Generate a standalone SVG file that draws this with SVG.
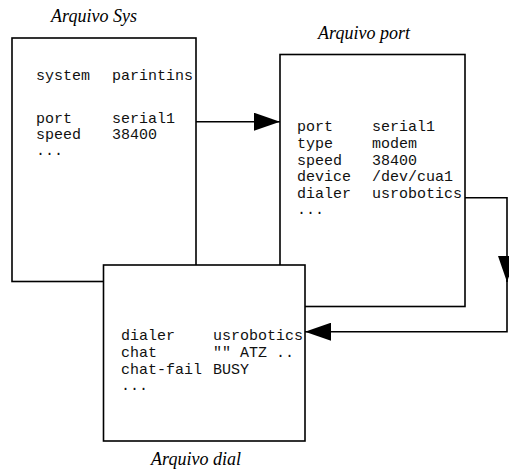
<svg xmlns="http://www.w3.org/2000/svg" width="509" height="470" viewBox="0 0 509 470">
<style>
.box{fill:#fff;stroke:#000;stroke-width:1.6}
.mono{font-family:"Liberation Mono","Courier New",monospace;font-size:15px;fill:#111}
.title{font-family:"Liberation Serif","Times New Roman",serif;font-style:italic;font-size:18px;fill:#000;text-anchor:middle}
.conn{fill:none;stroke:#000;stroke-width:1.6}
</style>
<defs>
<marker id="ah" viewBox="0 0 26 18" refX="26" refY="9" markerWidth="26" markerHeight="18" markerUnits="userSpaceOnUse" orient="auto">
<path d="M0,0 L26,9 L0,18 Z" fill="#000"/>
</marker>
</defs>
<rect width="509" height="470" fill="#fff"/>
<g id="sys">
<text class="title" x="94" y="22">Arquivo Sys</text>
<rect class="box" x="12" y="38" width="184" height="243.5"/>
<text class="mono" x="36" y="80">system</text><text class="mono" x="112" y="80">parintins</text>
<text class="mono" x="36" y="123">port</text><text class="mono" x="112" y="123">serial1</text>
<text class="mono" x="36" y="139">speed</text><text class="mono" x="112" y="139">38400</text>
<text class="mono" x="36" y="155">...</text>
</g>
<g id="port">
<text class="title" x="364" y="39">Arquivo port</text>
<rect class="box" x="280" y="54.5" width="185" height="252"/>
<text class="mono" x="297" y="131">port</text><text class="mono" x="372" y="131">serial1</text>
<text class="mono" x="297" y="147.75">type</text><text class="mono" x="372" y="147.75">modem</text>
<text class="mono" x="297" y="164.5">speed</text><text class="mono" x="372" y="164.5">38400</text>
<text class="mono" x="297" y="181.25">device</text><text class="mono" x="372" y="181.25">/dev/cua1</text>
<text class="mono" x="297" y="198">dialer</text><text class="mono" x="372" y="198">usrobotics</text>
<text class="mono" x="297" y="214">...</text>
</g>
<g id="dial">
<rect class="box" x="103.5" y="265" width="201.5" height="176"/>
<text class="mono" x="121" y="340">dialer</text><text class="mono" x="213" y="340">usrobotics</text>
<text class="mono" x="121" y="357">chat</text><text class="mono" x="213" y="357">"" ATZ ..</text>
<text class="mono" x="121" y="374">chat-fail</text><text class="mono" x="213" y="374">BUSY</text>
<text class="mono" x="121" y="390">...</text>
<text class="title" x="196" y="465">Arquivo dial</text>
</g>
<g id="connectors">
<path class="conn" d="M196,121.7 H280" marker-end="url(#ah)"/>
<path class="conn" d="M465,197.7 H507 V282" marker-end="url(#ah)"/>
<path class="conn" d="M507,280 V331.7 H305" marker-end="url(#ah)"/>
</g>
</svg>
